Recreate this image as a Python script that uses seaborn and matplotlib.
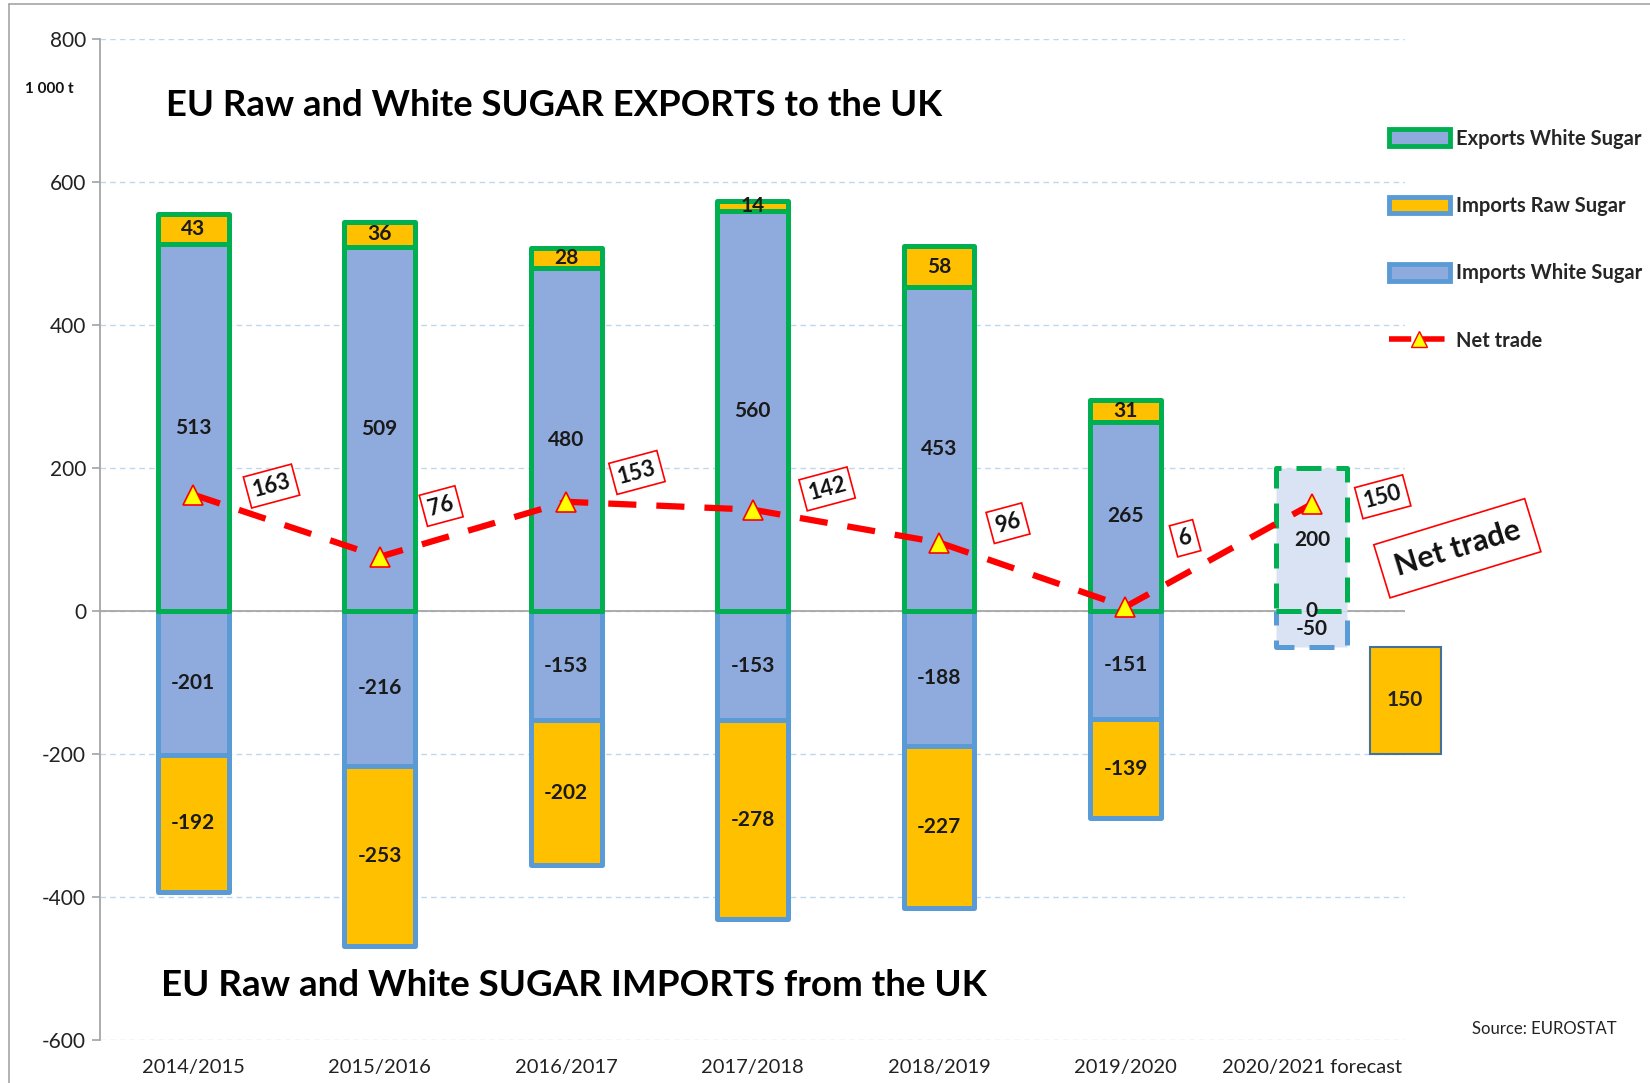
import numpy as np
import pandas as pd
import matplotlib
matplotlib.use("Agg")
import matplotlib.pyplot as plt
import seaborn as sns
from matplotlib.patches import Patch
from matplotlib.lines import Line2D

# data (1000 t)
seasons = ["2014/2015", "2015/2016", "2016/2017", "2017/2018",
           "2018/2019", "2019/2020", "2020/2021 forecast"]
exp_white = [513, 509, 480, 560, 453, 265, 200]
exp_raw = [43, 36, 28, 14, 58, 31, 0]
imp_white = [-201, -216, -153, -153, -188, -151, -50]
imp_raw = [-192, -253, -202, -278, -227, -139, 0]
net_trade = [163, 76, 153, 142, 96, 6, 150]
extra_raw = 150          # separate forecast box
extra_raw_top = -50

# label offsets for the net trade boxes (x, y)
net_offsets = [(0.42, 12), (0.33, 71), (0.38, 41), (0.40, 29),
               (0.37, 27), (0.32, 96), (0.38, 10)]

BLUE_FILL = "#8FAADC"
GREEN = "#00B050"
YELLOW = "#FFC000"
BLUE_EDGE = "#5B9BD5"
LIGHT = "#DAE3F3"

sns.set_theme(style="white")
plt.rcParams["font.family"] = ["Lato", "DejaVu Sans"]
plt.rcParams["axes.unicode_minus"] = False

df = pd.DataFrame({
    "season": seasons,
    "exp_total": np.array(exp_white) + np.array(exp_raw),
    "exp_white": exp_white,
    "imp_total": np.array(imp_white) + np.array(imp_raw),
    "imp_white": imp_white,
    "net": net_trade,
})
df["pos"] = np.arange(len(df))

fig = plt.figure(figsize=(16.5, 10.83), dpi=100)
ax = fig.add_axes([0.0606, 0.0397, 0.791, 0.924])

bw = 0.38
lw = 3.6


def bars(col, face, edge):
    n0 = len(ax.patches)
    sns.barplot(data=df, x="season", y=col, order=seasons, color=face,
                edgecolor=edge, linewidth=lw, width=bw, saturation=1, ax=ax)
    new = ax.patches[n0:]
    for p in new:
        p.set_joinstyle("round")
    return new


p_imp_tot = bars("imp_total", YELLOW, BLUE_EDGE)
p_imp_w = bars("imp_white", BLUE_FILL, BLUE_EDGE)
p_exp_tot = bars("exp_total", YELLOW, GREEN)
p_exp_w = bars("exp_white", BLUE_FILL, GREEN)

# forecast column: light fill, dashed edges
p_imp_tot[-1].set_visible(False)
p_exp_tot[-1].set_visible(False)
for p, ec in [(p_exp_w[-1], GREEN), (p_imp_w[-1], BLUE_EDGE)]:
    p.set_facecolor(LIGHT)
    p.set_edgecolor(ec)
    p.set_linestyle((0, (5, 3)))
    p.set_zorder(1.5)

# extra forecast box
ax.bar(len(seasons) - 0.5, -extra_raw, bottom=extra_raw_top, width=bw,
       color=YELLOW, edgecolor="#41719C", linewidth=1.5, clip_on=False)
ax.text(len(seasons) - 0.5, extra_raw_top - extra_raw / 2, str(extra_raw),
        ha="center", va="center", fontsize=15, fontweight="bold", color="#222222")

ax.axhline(0, color="#A6A6A6", lw=1.3, zorder=0.8)

# segment labels
lab = dict(ha="center", va="center", fontsize=15, fontweight="bold",
           color="#1a1a1a", zorder=4)
for i in range(len(seasons)):
    ax.text(i, exp_white[i] / 2, str(exp_white[i]), **lab)
    if exp_raw[i] != 0:
        ax.text(i, exp_white[i] + exp_raw[i] / 2, str(exp_raw[i]), **lab)
    else:
        ax.text(i, 0, str(exp_raw[i]), **lab)
    ax.text(i, imp_white[i] / 2, str(imp_white[i]), **lab)
    if imp_raw[i] != 0:
        ax.text(i, imp_white[i] + imp_raw[i] / 2, str(imp_raw[i]), **lab)

# net trade line
sns.lineplot(data=df, x="pos", y="net", color="#FF0000", linewidth=4.5,
             marker="^", markersize=15, markerfacecolor="#FFFF00",
             markeredgecolor="#FF0000", markeredgewidth=1.2, ax=ax, zorder=5)
ax.lines[-1].set_dashes([4.5, 3.2])

for i, v in enumerate(net_trade):
    dx, dy = net_offsets[i]
    ax.text(i + dx, v + dy, str(v), rotation=15, ha="center", va="center",
            fontsize=16, fontweight="bold", color="#111111", zorder=6,
            bbox=dict(boxstyle="square,pad=0.25", fc="white", ec="#FF0000", lw=1.2))

ax.text(6.78, 88, "Net trade", rotation=17, ha="center", va="center",
        fontsize=22, fontweight="bold", color="#111111", zorder=6,
        bbox=dict(boxstyle="square,pad=0.45", fc="white", ec="#FF0000", lw=1.2))

# axes styling
ax.set_xlim(-0.5, len(seasons) - 0.5)
ax.set_ylim(-600, 800)
ax.set_yticks(range(-600, 801, 200))
ax.yaxis.grid(True, color="#BDD7EE", linestyle=(0, (4, 3)), linewidth=1)
ax.xaxis.grid(False)
ax.set_axisbelow(True)
for s in ["top", "right", "bottom"]:
    ax.spines[s].set_visible(False)
ax.spines["left"].set_color("#A6A6A6")
ax.spines["left"].set_linewidth(1.3)
ax.tick_params(axis="y", left=True, length=6, color="#A6A6A6",
               labelsize=15, labelcolor="#222222", pad=4)
ax.tick_params(axis="x", bottom=False, labelsize=14.5, labelcolor="#222222", pad=8)
ax.set_xlabel("")
ax.set_ylabel("")

# titles and notes
fig.text(0.1006, 0.903, "EU Raw and White SUGAR EXPORTS to the UK", ha="left",
         va="center", fontsize=26.3, fontweight="bold", color="#000000")
fig.text(0.0976, 0.0896, "EU Raw and White SUGAR IMPORTS from the UK", ha="left",
         va="center", fontsize=26.5, fontweight="bold", color="#000000")
fig.text(0.0152, 0.918, "1 000 t", ha="left", va="center", fontsize=11,
         fontweight="bold", color="#111111")
fig.text(0.98, 0.05, "Source: EUROSTAT", ha="right", va="center",
         fontsize=12, color="#222222")

# legend
handles = [
    Patch(facecolor=BLUE_FILL, edgecolor=GREEN, linewidth=3.5),
    Patch(facecolor=YELLOW, edgecolor=BLUE_EDGE, linewidth=3.5),
    Patch(facecolor=BLUE_FILL, edgecolor=BLUE_EDGE, linewidth=3.5),
    Line2D([0], [0], color="#FF0000", lw=4, dashes=[4, 2], marker="^",
           markersize=11, markerfacecolor="#FFFF00", markeredgecolor="#FF0000"),
]
labels = ["Exports White Sugar", "Imports Raw Sugar", "Imports White Sugar", "Net trade"]
fig.legend(handles, labels, loc="upper left", bbox_to_anchor=(0.831, 0.898),
           frameon=False, prop={"weight": "bold", "size": 14.5},
           handlelength=3.0, handleheight=0.9, handletextpad=0.3, labelspacing=2.35)

# outer frame lines
fig.add_artist(Line2D([0.0055, 0.0055], [0, 0.996], color="#A6A6A6", lw=1.2))
fig.add_artist(Line2D([0.0055, 1], [0.996, 0.996], color="#A6A6A6", lw=1.2))

fig.savefig("out.png", dpi=100)
